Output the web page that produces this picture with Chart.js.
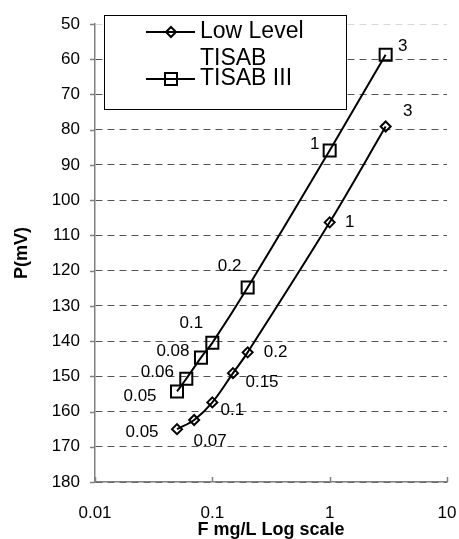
<!DOCTYPE html>
<html lang="en">
<head>
<meta charset="UTF-8">
<title>P(mV) vs F</title>
<style>
  html, body { margin: 0; padding: 0; background: #fff; overflow: hidden; }
  #wrap { width: 459px; height: 539px; }
  canvas { display: block; }
</style>
</head>
<body>
<div id="wrap"><canvas id="chart" width="459" height="539"></canvas></div>
<script src="https://cdn.jsdelivr.net/npm/chart.js@4/dist/chart.umd.min.js"></script>
<script>
// Data
var lowLevelF = [0.05, 0.07, 0.1, 0.15, 0.2, 1, 3];
var lowLevelP = [165, 162.4, 157.4, 149.1, 143.2, 106.3, 79.1];
var tisab3F = [0.05, 0.06, 0.08, 0.1, 0.2, 1, 3];
var tisab3P = [154.3, 150.7, 144.7, 140.5, 124.8, 85.9, 58.7];
var xTicks = [0.01, 0.1, 1, 10];
var seriesNames = ['Low Level TISAB', 'TISAB III'];

function toPoints(xs, ys) {
    var pts = [];
    for (var i = 0; i < xs.length; i++) pts.push({x: xs[i], y: ys[i]});
    return pts;
}

// where each value label sits, relative to its point
var labelOffsets = [
    [[-35, 3], [16, 21], [20, 8], [29, 9], [28, 0], [20, 0], [22, -15]],
    [[-37, 5], [-29, -6], [-28, -6], [-21, -20], [-18, -21], [-15, -6], [17, -8]]
];

var FONT = '"Liberation Sans", Arial, sans-serif';
var AXIS = '#808080';

// value labels next to the points
var pointLabels = {
    id: 'pointLabels',
    afterDatasetsDraw: function(chart) {
        var ctx = chart.ctx;
        ctx.save();
        ctx.font = '17px ' + FONT;
        ctx.fillStyle = '#000';
        ctx.textAlign = 'center';
        ctx.textBaseline = 'middle';
        chart.data.datasets.forEach(function(ds, i) {
            chart.getDatasetMeta(i).data.forEach(function(pt, j) {
                var off = labelOffsets[i][j];
                ctx.fillText(String(ds.data[j].x), pt.x + off[0], pt.y + off[1]);
            });
        });
        ctx.restore();
    }
};

// small tick marks like the original (y outside, x inside)
var tickMarks = {
    id: 'tickMarks',
    afterDraw: function(chart) {
        var ctx = chart.ctx, xs = chart.scales.x, ys = chart.scales.y;
        var area = chart.chartArea;
        ctx.save();
        ctx.strokeStyle = AXIS;
        ctx.lineWidth = 1.5;
        ctx.beginPath();
        ys.ticks.forEach(function(t) {
            var y = Math.round(ys.getPixelForValue(t.value)) + 0.5;
            ctx.moveTo(area.left - 5, y);
            ctx.lineTo(area.left, y);
        });
        xTicks.forEach(function(v) {
            var x = Math.round(xs.getPixelForValue(v)) + 0.5;
            ctx.moveTo(x, area.bottom);
            ctx.lineTo(x, area.bottom - 5);
        });
        ctx.stroke();
        ctx.restore();
    }
};

function drawMarker(ctx, style, x, y) {
    ctx.beginPath();
    if (style === 'rect') {
        ctx.rect(x - 6, y - 6, 12, 12);
    } else {
        ctx.moveTo(x - 5, y);
        ctx.lineTo(x, y - 5);
        ctx.lineTo(x + 5, y);
        ctx.lineTo(x, y + 5);
        ctx.closePath();
    }
    ctx.lineWidth = 2;
    ctx.strokeStyle = '#000';
    ctx.stroke();
}

// boxed legend over the top-left of the plot
var boxLegend = {
    id: 'boxLegend',
    afterDraw: function(chart) {
        var ctx = chart.ctx;
        ctx.save();
        ctx.fillStyle = '#fff';
        ctx.fillRect(104, 15, 242, 94);
        ctx.strokeStyle = '#000';
        ctx.lineWidth = 1;
        ctx.strokeRect(104.5, 15.5, 242, 94);

        var rows = [
            {y: 32, style: 'rectRot', lines: ['Low Level', 'TISAB']},
            {y: 79, style: 'rect', lines: ['TISAB III']}
        ];
        ctx.font = '23px ' + FONT;
        ctx.textBaseline = 'middle';
        rows.forEach(function(r) {
            ctx.strokeStyle = '#000';
            ctx.lineWidth = 2;
            ctx.beginPath();
            ctx.moveTo(146, r.y);
            ctx.lineTo(195, r.y);
            ctx.stroke();
            drawMarker(ctx, r.style, 171, r.y);
            ctx.fillStyle = '#000';
            r.lines.forEach(function(txt, k) {
                ctx.fillText(txt, 200, r.y + k * 27);
            });
        });
        ctx.restore();
    }
};

var ctx = document.getElementById('chart');
var myChart = new Chart(ctx, {
    type: 'line',
    data: {
        datasets: [{
            label: seriesNames[0],
            data: toPoints(lowLevelF, lowLevelP),
            borderColor: '#000',
            borderWidth: 2,
            pointStyle: 'rectRot',
            pointRadius: 5,
            pointBorderWidth: 2,
            pointBackgroundColor: 'rgba(0,0,0,0)',
            pointBorderColor: '#000',
            tension: 0.35,
            fill: false
        }, {
            label: seriesNames[1],
            data: toPoints(tisab3F, tisab3P),
            borderColor: '#000',
            borderWidth: 2,
            pointStyle: 'rect',
            pointRadius: 8.5,
            pointBorderWidth: 2,
            pointBackgroundColor: 'rgba(0,0,0,0)',
            pointBorderColor: '#000',
            tension: 0.35,
            fill: false
        }]
    },
    options: {
        responsive: false,
        animation: false,
        devicePixelRatio: 1,
        layout: {padding: {top: 24, right: 12, bottom: 0, left: 0}},
        plugins: {
            legend: {display: false},
            tooltip: {enabled: false}
        },
        scales: {
            x: {
                type: 'logarithmic',
                min: 0.01,
                max: 10,
                afterBuildTicks: function(s) {
                    s.ticks = xTicks.map(function(v) { return {value: v}; });
                },
                afterFit: function(s) {
                    s.height = 57;
                    s.paddingLeft = 0;
                    s.paddingRight = 0;
                },
                ticks: {
                    autoSkip: false,
                    maxRotation: 0,
                    padding: 21,
                    color: '#000',
                    font: {family: FONT, size: 17},
                    callback: function(v) { return String(v); }
                },
                grid: {display: false, drawTicks: false},
                border: {display: true, color: AXIS, width: 1.5},
                title: {
                    display: true,
                    text: 'F mg/L Log scale',
                    color: '#000',
                    font: {family: FONT, size: 18, weight: 'bold'},
                    padding: {top: 0, bottom: -2}
                }
            },
            y: {
                min: 50,
                max: 180,
                reverse: true,
                afterFit: function(s) {
                    s.width = 95;
                    s.paddingTop = 0;
                    s.paddingBottom = 0;
                },
                ticks: {
                    stepSize: 10,
                    padding: 15,
                    color: '#000',
                    font: {family: FONT, size: 17}
                },
                grid: {
                    drawTicks: false,
                    lineWidth: 1,
                    color: function(c) {
                        return c.tick && c.tick.value === 50 ? '#d8d8d8' : '#555';
                    }
                },
                border: {display: true, color: AXIS, width: 1.5, dash: [7, 5]},
                title: {
                    display: true,
                    text: 'P(mV)',
                    color: '#000',
                    font: {family: FONT, size: 18, weight: 'bold'},
                    padding: {top: 11, bottom: 0}
                }
            }
        }
    },
    plugins: [pointLabels, tickMarks, boxLegend]
});
</script>
</body>
</html>
